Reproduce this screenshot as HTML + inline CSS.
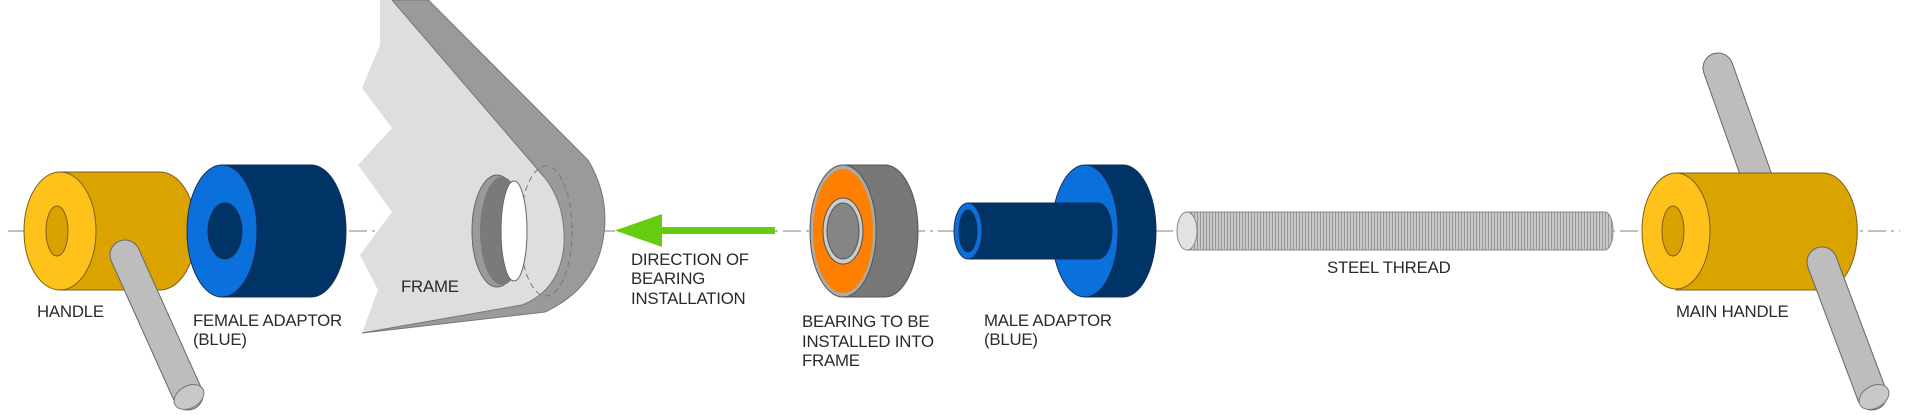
<!DOCTYPE html>
<html><head><meta charset="utf-8"><style>
html,body{margin:0;padding:0;background:#fff;width:1920px;height:415px;overflow:hidden}
svg{display:block}
text{font-family:"Liberation Sans",Arial,sans-serif;font-size:16.8px;fill:#2a2a2a;letter-spacing:-0.2px}
</style></head><body>
<svg width="1920" height="415" viewBox="0 0 1920 415" xmlns="http://www.w3.org/2000/svg">
<defs>
<pattern id="thr" width="3" height="10" patternUnits="userSpaceOnUse">
<rect width="3" height="10" fill="#c8c8c8"/><rect width="1" height="10" fill="#999"/>
</pattern>
</defs>
<line x1="8" y1="231" x2="1900" y2="231" stroke="#9a9a9a" stroke-width="1.2" stroke-dasharray="18,5,3,5"/>

<!-- HANDLE -->
<g stroke="#7a6020" stroke-width="1">
<path d="M60,172 L160,172 A36,59 0 0 1 160,290 L60,290" fill="#dba300"/>
<ellipse cx="60" cy="231" rx="36" ry="59" fill="#ffc21a"/>
<ellipse cx="57" cy="231" rx="11" ry="25" fill="#d9a200"/>
</g>
<line x1="125" y1="255" x2="188" y2="395" stroke="#666" stroke-width="31" stroke-linecap="round"/>
<line x1="125" y1="255" x2="188" y2="395" stroke="#bdbdbd" stroke-width="29" stroke-linecap="round"/>
<ellipse cx="189" cy="397" rx="16" ry="11" transform="rotate(-30 189 397)" fill="#c8c8c8" stroke="#777"/>

<!-- FEMALE ADAPTOR -->
<g stroke="#1a2d55" stroke-width="1">
<path d="M222,165 L311,165 A35,66 0 0 1 311,297 L222,297 Z" fill="#003366"/>
<ellipse cx="222" cy="231" rx="35" ry="66" fill="#0a70dc"/>
<ellipse cx="225" cy="231" rx="17" ry="28" fill="#003366"/>
</g>

<!-- FRAME -->
<path d="M380,0 L430,0 L588,160 Q612,200 602,245 Q592,290 545,312 L362,333 L378,290 L360,255 L392,212 L358,165 L392,128 L362,88 L380,45 Z" fill="#dedede"/>
<path d="M392,0 L428,0 L588,160 Q612,200 602,245 Q592,290 545,312 L362,333 L522,305 Q560,290 564,245 Q566,205 545,178 Z" fill="#9a9a9a" stroke="#777" stroke-width="1"/>
<ellipse cx="546" cy="231" rx="26" ry="65" fill="none" stroke="#777" stroke-width="1" stroke-dasharray="6,4"/>
<ellipse cx="497" cy="231" rx="25" ry="56" fill="#9a9a9a" stroke="#666"/>
<ellipse cx="502" cy="231" rx="22" ry="54" fill="#7a7a7a"/>
<ellipse cx="514" cy="231" rx="13" ry="50" fill="#fff" stroke="#666"/>

<!-- ARROW -->
<rect x="650" y="227" width="125" height="7" fill="#66cc11"/>
<polygon points="615,230.5 662,214 662,247" fill="#66cc11"/>

<!-- BEARING -->
<g stroke="#555" stroke-width="1">
<path d="M843,165 L885,165 A33,66 0 0 1 885,297 L843,297 Z" fill="#777"/>
<ellipse cx="843" cy="231" rx="33" ry="66" fill="#aaa"/>
<ellipse cx="843" cy="231" rx="30" ry="62" fill="#ff8000" stroke="none"/>
<ellipse cx="843" cy="231" rx="20" ry="33" fill="#ccc"/>
<ellipse cx="843" cy="231" rx="16" ry="28" fill="#858585"/>
</g>

<!-- MALE ADAPTOR -->
<g stroke="#1a2d55" stroke-width="1">
<path d="M1085,165 L1123,165 A33,66 0 0 1 1123,297 L1085,297 Z" fill="#003366"/>
<ellipse cx="1085" cy="231" rx="33" ry="66" fill="#0a70dc"/>
<path d="M968,203 L1098,203 A14,28 0 0 1 1098,259 L968,259 Z" fill="#003366"/>
<ellipse cx="968" cy="231" rx="14" ry="28" fill="#0a70dc"/>
<ellipse cx="968" cy="231" rx="9" ry="21" fill="#003366"/>
</g>

<!-- STEEL THREAD -->
<path d="M1187,212 L1605,212 A8,19 0 0 1 1605,250 L1187,250 Z" fill="url(#thr)" stroke="#888"/>
<ellipse cx="1187" cy="231" rx="10" ry="19" fill="#e2e2e2" stroke="#888"/>

<!-- MAIN HANDLE -->
<line x1="1718" y1="68" x2="1765" y2="200" stroke="#666" stroke-width="31" stroke-linecap="round"/>
<line x1="1718" y1="68" x2="1765" y2="200" stroke="#bdbdbd" stroke-width="29" stroke-linecap="round"/>
<g stroke="#7a6020" stroke-width="1">
<path d="M1676,173 L1823,173 A34,58 0 0 1 1823,290 L1676,290 Z" fill="#dba300"/>
<ellipse cx="1676" cy="231" rx="34" ry="58" fill="#ffc21a"/>
<ellipse cx="1673" cy="231" rx="11" ry="25" fill="#d9a200"/>
</g>
<line x1="1822" y1="262" x2="1872" y2="395" stroke="#666" stroke-width="31" stroke-linecap="round"/>
<line x1="1822" y1="262" x2="1872" y2="395" stroke="#bdbdbd" stroke-width="29" stroke-linecap="round"/>
<ellipse cx="1874" cy="397" rx="16" ry="11" transform="rotate(-30 1874 397)" fill="#c8c8c8" stroke="#777"/>

<!-- LABELS -->
<text x="37" y="317">HANDLE</text>
<text x="193" y="326">FEMALE ADAPTOR</text>
<text x="193" y="345">(BLUE)</text>
<text x="401" y="292">FRAME</text>
<text x="631" y="265">DIRECTION OF</text>
<text x="631" y="284">BEARING</text>
<text x="631" y="304">INSTALLATION</text>
<text x="802" y="327">BEARING TO BE</text>
<text x="802" y="347">INSTALLED INTO</text>
<text x="802" y="366">FRAME</text>
<text x="984" y="326">MALE ADAPTOR</text>
<text x="984" y="345">(BLUE)</text>
<text x="1327" y="273">STEEL THREAD</text>
<text x="1676" y="317">MAIN HANDLE</text>
</svg>
</body></html>
